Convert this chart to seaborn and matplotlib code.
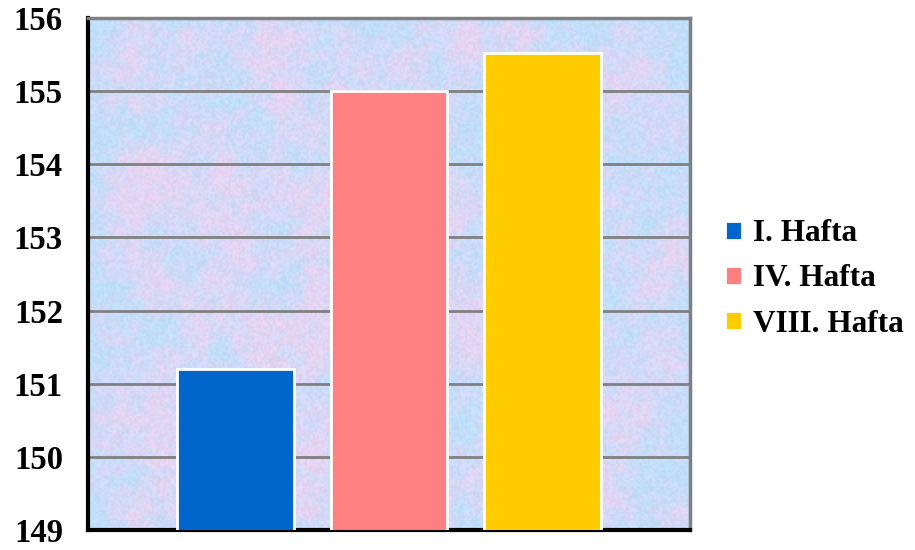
import numpy as np
import pandas as pd
import matplotlib
matplotlib.use("Agg")
import matplotlib.pyplot as plt
import seaborn as sns

# ---- data ----
groups = ["I. Hafta", "IV. Hafta", "VIII. Hafta"]
values = [151.2, 155.0, 155.52]
colors = ["#0066CC", "#FF8080", "#FFCC00"]
yticks = [149, 150, 151, 152, 153, 154, 155, 156]

sns.set_theme(style="white")
plt.rcParams['font.family'] = ['Liberation Serif', 'DejaVu Serif']
plt.rcParams['font.weight'] = 'bold'
plt.rcParams['text.color'] = 'black'
plt.rcParams['ytick.color'] = 'black'
plt.rcParams['ytick.labelcolor'] = 'black'

fig = plt.figure(figsize=(9.15, 5.5), dpi=100)
pos = [88 / 915, 1 - 530 / 550, (690 - 88) / 915, (530 - 18) / 550]


def smooth(a, n):
    k = np.ones(n) / n
    a = np.apply_along_axis(lambda r: np.convolve(r, k, mode='same'), 1, a)
    return np.apply_along_axis(lambda c: np.convolve(c, k, mode='same'), 0, a)


# textured background (decorative)
bg = fig.add_axes(pos, zorder=0)
rng = np.random.default_rng(11)
h, w = 256, 300
fine = rng.random((h, w))
mid = smooth(np.kron(rng.random((h // 4, w // 4)), np.ones((4, 4))), 5)
coarse = smooth(np.kron(rng.random((h // 16, w // 15 + 1)), np.ones((16, 15)))[:h, :w], 15)
t = 0.45 * coarse + 0.35 * mid + 0.2 * fine
t = (t - t.mean()) / t.std()
t = np.clip(0.45 + 0.28 * t, 0, 1)
blue = np.array([192, 223, 250]) / 255
lav = np.array([232, 212, 243]) / 255
tex = blue[None, None, :] * (1 - t[..., None]) + lav[None, None, :] * t[..., None]
tex = tex + (rng.random((h, w, 1)) - 0.5) * 0.05
tex = np.clip(tex, 0, 1)
bg.imshow(tex, aspect='auto', interpolation='bilinear', extent=(0, 1, 0, 1))
bg.axis('off')

ax = fig.add_axes(pos, zorder=1)
ax.set_facecolor('none')
df = pd.DataFrame({"x": [""] * 3, "Hafta": groups, "value": values})
sns.barplot(data=df, x="x", y="value", hue="Hafta", hue_order=groups,
            palette=colors, width=0.767, gap=0.24, saturation=1,
            edgecolor="white", linewidth=2, errorbar=None, ax=ax, zorder=3)

ax.set_xlim(-0.5, 0.5)
ax.set_ylim(149, 156)
ax.set_yticks(yticks)
ax.set_yticklabels([str(v) for v in yticks])
ax.set_xticks([])
ax.set_xlabel("")
ax.set_ylabel("")
ax.yaxis.grid(True, color="#808080", linewidth=2)
ax.set_axisbelow(True)
ax.tick_params(axis='y', length=0, pad=18, labelsize=23.5, labelcolor='black')
for lab in ax.get_yticklabels():
    lab.set_fontweight('bold')

for s in ['left', 'bottom']:
    ax.spines[s].set_color('black')
    ax.spines[s].set_linewidth(3)
for s in ['top', 'right']:
    ax.spines[s].set_color('#808080')
    ax.spines[s].set_linewidth(2.5)

handles, labels = ax.get_legend_handles_labels()
ax.legend_.remove()
leg = fig.legend(handles, labels, loc='center left', bbox_to_anchor=(725 / 915, 1 - 279 / 550),
                 frameon=False, handlelength=0.55, handleheight=0.55,
                 handletextpad=0.35, labelspacing=0.52, borderpad=0, borderaxespad=0,
                 prop={'weight': 'bold', 'size': 22.5})
for txt in leg.get_texts():
    txt.set_color('black')

fig.savefig("out.png", dpi=100)
